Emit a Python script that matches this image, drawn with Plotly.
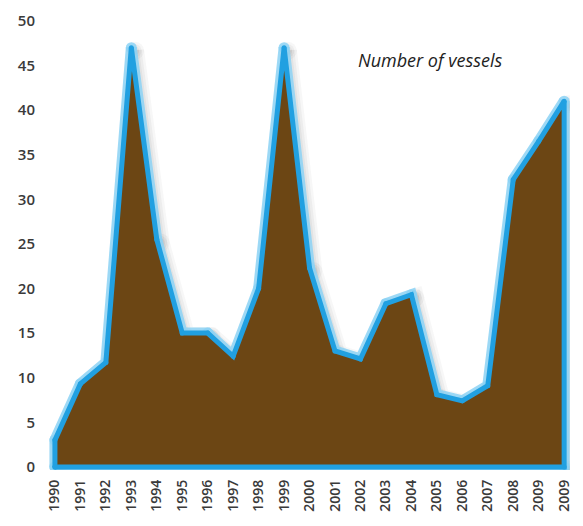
import plotly.graph_objects as go

# Year labels along the bottom (the final label repeats 2009)
year_labels = ["1990", "1991", "1992", "1993", "1994", "1995", "1996", "1997",
               "1998", "1999", "2000", "2001", "2002", "2003", "2004", "2005",
               "2006", "2007", "2008", "2009", "2009"]

# Number of vessels per year
vessels = [3, 9.3, 11.7, 47, 25.5, 15, 15, 12.4, 20, 47, 22.3, 13, 12.1,
           18.3, 19.3, 8.1, 7.4, 9.1, 32.2, 36.5, 41]

y_ticks = [0, 5, 10, 15, 20, 25, 30, 35, 40, 45, 50]

idx = list(range(len(year_labels)))

# Closed outline: down to the baseline at both ends
poly_x = [idx[0]] + idx + [idx[-1], idx[0]]
poly_y = [0] + vessels + [0, 0]

BROWN = "rgb(108,70,20)"
BLUE = "rgb(33,160,225)"
HALO = "rgba(140,210,245,0.85)"

fig = go.Figure()

# Soft drop shadow to the lower right of the area
for w, a in [(18, 0.04), (13, 0.05), (8, 0.06)]:
    fig.add_trace(go.Scatter(
        x=[v + 0.15 for v in poly_x], y=[v - 0.35 for v in poly_y],
        mode="lines+markers", line=dict(color=f"rgba(60,60,60,{a})", width=w),
        marker=dict(size=w, color=f"rgba(60,60,60,{a})", line=dict(width=0)),
        hoverinfo="skip", showlegend=False))

# Light blue glow around the outline (round caps via markers at the vertices)
fig.add_trace(go.Scatter(
    x=poly_x, y=poly_y, mode="lines+markers",
    line=dict(color=HALO, width=11),
    marker=dict(size=11, color=HALO, line=dict(width=0)),
    hoverinfo="skip", showlegend=False))

# Brown area with its blue border
fig.add_trace(go.Scatter(
    x=poly_x, y=poly_y, mode="lines", fill="toself", fillcolor=BROWN,
    line=dict(color=BLUE, width=5),
    hoverinfo="skip", showlegend=False))

# Rounded joints on the blue border
fig.add_trace(go.Scatter(
    x=poly_x, y=poly_y, mode="markers",
    marker=dict(size=5, color=BLUE, line=dict(width=0)),
    hoverinfo="skip", showlegend=False))

fig.add_annotation(
    x=14.75, y=45.6, xref="x", yref="y",
    text="<i>Number of vessels</i>", showarrow=False,
    font=dict(family="Open Sans", size=18, color="#222222"))

fig.update_layout(
    width=583, height=526,
    margin=dict(l=45, r=10, t=10, b=56),
    paper_bgcolor="white", plot_bgcolor="white",
    showlegend=False,
    font=dict(family="Open Sans", color="#3a3a3a"),
    xaxis=dict(
        range=[-0.39, 20.23], tickmode="array", tickvals=idx,
        ticktext=year_labels, tickangle=-90, showgrid=False,
        zeroline=False, showline=False, ticks="", ticklabelstandoff=6,
        tickfont=dict(size=14, color="#3a3a3a", weight=600)),
    yaxis=dict(
        range=[-0.35, 51.22], tickmode="array", tickvals=y_ticks,
        showgrid=False, zeroline=False, showline=False, ticks="",
        ticklabelstandoff=9,
        tickfont=dict(size=15, color="#3a3a3a", weight=600)),
)

fig.write_html("out.html")
